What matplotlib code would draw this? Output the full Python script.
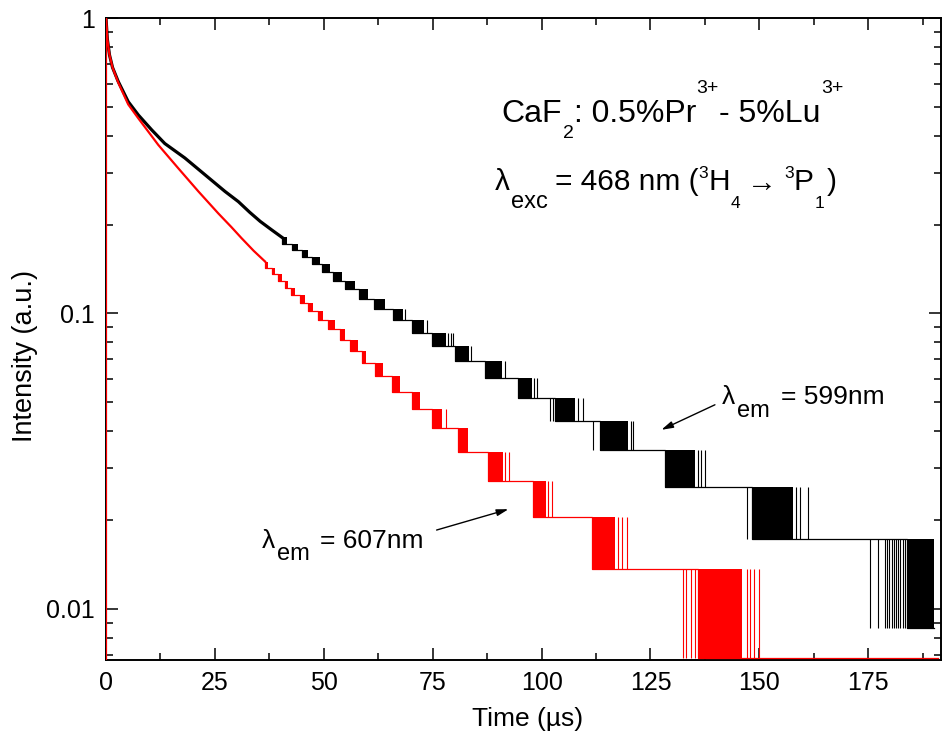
import numpy as np
import matplotlib
matplotlib.use('Agg')
import matplotlib.pyplot as plt
from matplotlib.ticker import LogLocator, NullFormatter, FixedLocator, FixedFormatter, MultipleLocator

plt.rcParams['font.family'] = ['Liberation Sans', 'DejaVu Sans']

# --- 599 nm emission (black) ---
# smooth early part
black_smooth_t = [0, 0.3, 0.8, 1.5, 2.8, 5.1, 7.4, 10.5, 13.5, 18.1, 22.7, 27.3, 30.4, 33.0, 35.4, 38.0, 40.4]
black_smooth_i = [1.0, 0.85, 0.75, 0.68, 0.61, 0.521, 0.47, 0.418, 0.376, 0.336, 0.295, 0.259, 0.239, 0.220, 0.205, 0.192, 0.181]
# photon-count staircase: counts before each drop, full scale = 116 counts
black_full = 116
black_counts = [21, 20, 19, 18, 17, 16, 15, 14, 13, 12, 11, 10, 9, 8, 7, 6, 5, 4, 3, 2]
black_core_start = [40.4, 42.6, 44.9, 47.2, 49.5, 52.2, 54.9, 58.0, 61.6, 66.0, 70.2, 74.8, 80.1, 87.0, 94.7, 103.1, 113.4, 128.3, 148.2, 184.0]
black_core_end = [41.6, 44.1, 46.4, 49.1, 51.4, 54.1, 57.2, 60.2, 64.0, 68.2, 73.0, 78.0, 83.3, 90.8, 97.7, 107.7, 119.9, 135.2, 157.8, 190.0]
black_spike_t = [68.7, 73.6, 78.6, 79.2, 79.7, 83.9, 91.6, 98.3, 98.9, 101.9, 102.7, 108.4, 109.6,
                 111.9, 120.5, 121.1, 136.0, 136.7, 137.5, 147.1, 158.5, 159.3, 161.2,
                 175.4, 177.3, 178.8, 179.3, 179.8, 180.4, 180.9, 181.4, 181.9, 182.4, 182.9, 183.4]
black_spike_n = [12, 11, 10, 10, 10, 9, 8, 7, 7, 6, 6, 6, 6,
                 5, 5, 5, 4, 4, 4, 3, 3, 3, 3,
                 2, 2, 2, 2, 2, 2, 2, 2, 2, 2, 2, 2]
black_t_end = 190.0

# --- 607 nm emission (red) ---
red_smooth_t = [0, 0, 0.3, 0.8, 1.5, 2.8, 5.1, 7.4, 12.0, 16.6, 21.2, 25.8, 28.8, 31.1, 33.9, 36.5]
red_smooth_i = [0.001, 1.0, 0.85, 0.75, 0.68, 0.605, 0.51, 0.458, 0.372, 0.310, 0.259, 0.218, 0.196, 0.180, 0.163, 0.150]
red_full = 147
red_counts = [22, 21, 20, 19, 18, 17, 16, 15, 14, 13, 12, 11, 10, 9, 8, 7, 6, 5, 4, 3, 2]
red_core_start = [36.5, 38.0, 39.5, 41.0, 42.5, 44.5, 46.4, 48.7, 51.0, 53.7, 56.0, 58.7, 61.8, 65.6, 70.2, 74.8, 80.9, 87.8, 98.1, 111.5, 136.0]
red_core_end = [37.3, 38.7, 40.3, 41.8, 43.4, 45.7, 47.6, 49.9, 52.6, 54.9, 57.9, 59.8, 63.7, 67.5, 72.1, 77.1, 83.2, 91.2, 101.1, 116.9, 145.9]
red_spike_t = [78.1, 91.7, 92.5, 101.5, 102.3, 117.6, 118.4, 119.5,
               132.5, 133.1, 134.4, 135.2, 147.1, 147.8, 148.8, 149.9]
red_spike_n = [7, 5, 5, 4, 4, 3, 3, 3,
               2, 2, 2, 2, 2, 2, 2, 2]
red_t_end = 191.0

W, H = 942, 742


def draw_decay(ax, t_s, i_s, counts, starts, ends, spike_t, spike_n, full, t_end, color, lw_smooth, z):
    ax.plot(t_s, i_s, color=color, lw=lw_smooth, zorder=z, solid_joinstyle='round')
    hi = np.asarray(counts, float) / full
    lo = (np.asarray(counts, float) - 1) / full
    xs = [t_s[-1]]
    ys = [i_s[-1]]
    for a, b, h, l in zip(starts, ends, hi, lo):
        xs += [a, a, b]
        ys += [h, l, l]
        ax.fill_between([a, b], [l, l], [h, h], color=color, lw=0, zorder=z)
    xs.append(t_end)
    ys.append(ys[-1])
    ax.plot(xs, ys, color=color, lw=0.9, zorder=z)
    sn = np.asarray(spike_n, float)
    ax.vlines(spike_t, (sn - 1) / full, sn / full, color=color, lw=0.8, zorder=z)


def rich_text(fig, x_px, y_px, pieces):
    # pieces: (text, fontsize, baseline shift in px (down +), gap before in px)
    r = fig.canvas.get_renderer()
    x = x_px
    for s, size, dy, gap in pieces:
        x += gap
        t = fig.text(x / W, 1 - (y_px + dy) / H, s, fontsize=size, va='baseline', ha='left')
        x = t.get_window_extent(r).x1


fig = plt.figure(figsize=(9.42, 7.42), dpi=100)
ax = fig.add_axes([106 / 942, 1 - 660 / 742, 835 / 942, 642 / 742])
ax.set_yscale('log')

draw_decay(ax, black_smooth_t, black_smooth_i, black_counts, black_core_start, black_core_end,
           black_spike_t, black_spike_n, black_full, black_t_end, 'black', 2.3, 2)
draw_decay(ax, red_smooth_t, red_smooth_i, red_counts, red_core_start, red_core_end,
           red_spike_t, red_spike_n, red_full, red_t_end, '#ff0000', 1.6, 3)

ax.set_xlim(0, 191.7)
ax.set_ylim(0.00672, 1)

ax.xaxis.set_major_locator(MultipleLocator(25))
ax.xaxis.set_minor_locator(MultipleLocator(12.5))
ax.yaxis.set_major_locator(FixedLocator([0.01, 0.1, 1]))
ax.yaxis.set_major_formatter(FixedFormatter(['0.01', '0.1', '1']))
ax.yaxis.set_minor_locator(LogLocator(base=10, subs=np.arange(2, 10), numticks=20))
ax.yaxis.set_minor_formatter(NullFormatter())

ax.tick_params(which='both', direction='in', top=True, right=True, width=1.1, labelsize=18, pad=8)
ax.tick_params(which='major', length=8.5)
ax.tick_params(which='minor', length=5)
for s in ax.spines.values():
    s.set_linewidth(1.4)

ax.set_xlabel('Time (µs)', fontsize=19)
ax.xaxis.set_label_coords(0.505, -0.073)
ax.set_ylabel('Intensity (a.u.)', fontsize=19.5)
ax.yaxis.set_label_coords(-0.082, 0.4735)

rich_text(fig, 501.7, 122, [('CaF', 23, 0, 0), ('2', 14, 16, 0.5), (': 0.5%Pr', 23, 0, 0),
                           ('3+', 14, -29, 0.5), ('- 5%Lu', 23, 0, 0), ('3+', 14, -29, 0.5)])
rich_text(fig, 495, 190.5, [('λ', 21.5, 0, 0), ('exc', 17, 18, 1), ('= 468 nm (', 21.5, 0, 7),
                           ('3', 12.5, -13, 0), ('H', 21.5, 0, 0), ('4', 12.5, 18, 1), ('→', 21.5, 0, 7),
                           ('3', 12.5, -13, 7), ('P', 21.5, 0, 0), ('1', 12.5, 18, 1), (')', 21.5, 0, 2)])
rich_text(fig, 721.7, 404, [('λ', 19, 0, 0), ('em', 17, 12.5, 2), ('= 599nm', 19, 0, 11)])
rich_text(fig, 261.7, 548.3, [('λ', 19, 0, 0), ('em', 17, 11.7, 2), ('= 607nm', 19, 0, 10)])

arrow = dict(arrowstyle='-|>,head_length=0.7,head_width=0.2', color='black', lw=1.0, shrinkA=0, shrinkB=0)
ax.annotate('', xy=(127.5, 0.0404), xytext=(139.8, 0.0491), arrowprops=arrow)
ax.annotate('', xy=(92.4, 0.02176), xytext=(75.9, 0.0185), arrowprops=arrow)

fig.savefig('out.png', dpi=100)
